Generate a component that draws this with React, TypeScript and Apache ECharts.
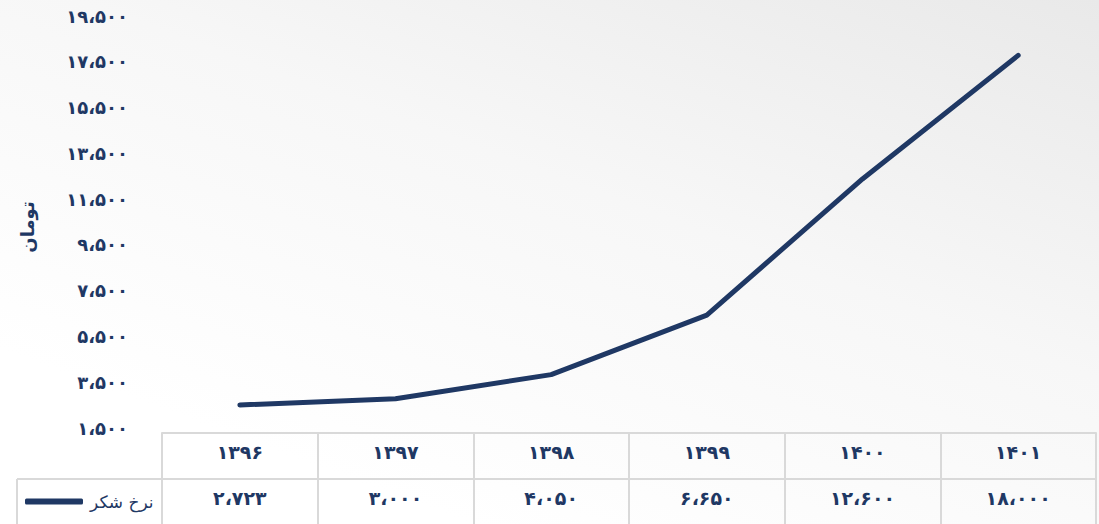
import React, { useEffect, useRef } from "react";
import * as echarts from "echarts";

const years: string[] = ["۱۳۹۶", "۱۳۹۷", "۱۳۹۸", "۱۳۹۹", "۱۴۰۰", "۱۴۰۱"];
const sugarPrice: number[] = [2723, 3000, 4050, 6650, 12600, 18000];
const seriesName = "نرخ شکر";
const unitName = "تومان";
const yMin = 1500;
const yMax = 19500;
const yStep = 2000;

const NAVY = "#1f3864";
const BORDER = "#d9d9d9";
const FONT = "DejaVu Sans";

function toPersian(n: number): string {
  const s = Math.round(n).toString().replace(/\B(?=(\d{3})+(?!\d))/g, "،");
  return s.replace(/\d/g, (d) => "۰۱۲۳۴۵۶۷۸۹"[Number(d)]);
}

export default function App() {
  const ref = useRef<HTMLDivElement>(null);
  useEffect(() => {
    if (!ref.current) return;
    const chart = echarts.init(ref.current, undefined, { renderer: "svg" });
    chart.setOption({
      animation: false,
      backgroundColor: {
        type: "linear",
        x: 1,
        y: 0,
        x2: 0.3,
        y2: 0.9,
        colorStops: [
          { offset: 0, color: "#e9e9e9" },
          { offset: 0.5, color: "#f7f7f7" },
          { offset: 1, color: "#ffffff" },
        ],
      },
      grid: { left: 162, right: 3, top: 21, bottom: 91, containLabel: false },
      legend: {
        left: 20,
        top: 488,
        icon: "roundRect",
        itemWidth: 58,
        itemHeight: 6,
        itemGap: 0,
        textStyle: { color: NAVY, fontFamily: FONT, fontSize: 17, padding: [0, 0, 0, 2] },
        data: [seriesName],
      },
      xAxis: [
        {
          type: "category",
          data: years,
          position: "bottom",
          boundaryGap: true,
          axisLine: { show: true, lineStyle: { color: BORDER, width: 2 } },
          axisTick: { show: true, length: 46, lineStyle: { color: BORDER, width: 2 } },
          axisLabel: {
            color: NAVY,
            fontFamily: FONT,
            fontWeight: "bold",
            fontSize: 19,
            margin: 9,
          },
        },
        {
          type: "category",
          data: sugarPrice.map((v) => toPersian(v)),
          position: "bottom",
          offset: 46,
          boundaryGap: true,
          axisLine: { show: true, lineStyle: { color: BORDER, width: 2 } },
          axisTick: { show: true, length: 46, lineStyle: { color: BORDER, width: 2 } },
          axisLabel: {
            color: NAVY,
            fontFamily: FONT,
            fontWeight: "bold",
            fontSize: 19,
            margin: 9,
          },
        },
      ],
      yAxis: {
        type: "value",
        min: yMin,
        max: yMax,
        interval: yStep,
        name: unitName,
        nameLocation: "middle",
        nameRotate: 90,
        nameGap: 126,
        nameTextStyle: { color: NAVY, fontFamily: FONT, fontWeight: "bold", fontSize: 18 },
        axisLine: { show: false },
        axisTick: { show: false },
        splitLine: { show: false },
        axisLabel: {
          color: NAVY,
          fontFamily: FONT,
          fontWeight: "bold",
          fontSize: 18,
          margin: 34,
          verticalAlign: "bottom",
          lineHeight: 10,
          formatter: (v: number) => toPersian(v),
        },
      },
      graphic: [
        {
          type: "line",
          shape: { x1: 17, y1: 479, x2: 162, y2: 479 },
          style: { stroke: BORDER, lineWidth: 2 },
        },
        {
          type: "line",
          shape: { x1: 17, y1: 479, x2: 17, y2: 524 },
          style: { stroke: BORDER, lineWidth: 2 },
        },
      ],
      series: [
        {
          name: seriesName,
          type: "line",
          xAxisIndex: 0,
          data: sugarPrice,
          symbol: "none",
          lineStyle: { color: NAVY, width: 5, cap: "round", join: "round" },
          itemStyle: { color: NAVY },
        },
      ],
    });
    return () => chart.dispose();
  }, []);
  return (
    <div
      ref={ref}
      style={{ position: "fixed", left: 0, top: 0, width: 1099, height: 524 }}
    />
  );
}
